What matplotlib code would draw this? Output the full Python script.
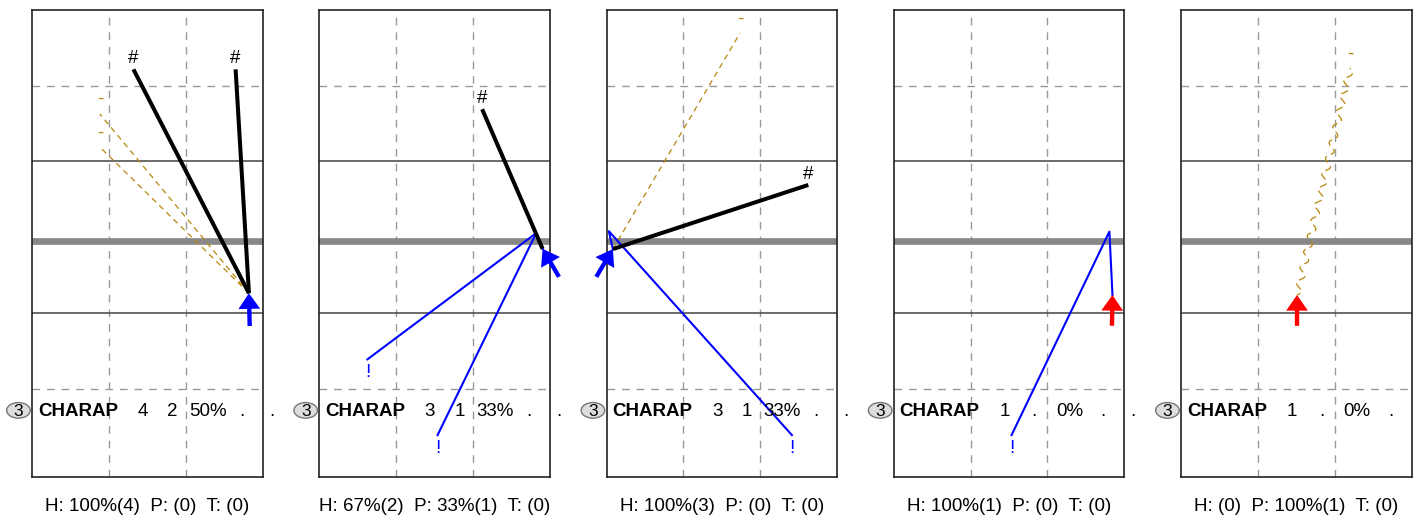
import matplotlib.pyplot as plt
from matplotlib.patches import FancyArrow, Ellipse

plt.rcParams['font.family'] = ['Liberation Sans', 'DejaVu Sans']

# court in meters, y grows downward from the far end line
court_w = 9.0
court_h = 18.5
dash_x = [3, 6]
dash_y = [3, 15]
solid_y = [6, 12]
net_y = 9.15

player_no = '3'
player_name = 'CHARAP'
row_values = [
    ['4', '2', '50%', '.', '.'],
    ['3', '1', '33%', '.', '.'],
    ['3', '1', '33%', '.', '.'],
    ['1', '.', '0%', '.', '.'],
    ['1', '.', '0%', '.'],
]
row_x = [4.32, 5.49, 6.86, 8.18, 9.35]
row_y = 16.1

summary = [
    'H: 100%(4)  P: (0)  T: (0)',
    'H: 67%(2)  P: 33%(1)  T: (0)',
    'H: 100%(3)  P: (0)  T: (0)',
    'H: 100%(1)  P: (0)  T: (0)',
    'H: (0)  P: 100%(1)  T: (0)',
]

# attack origin (arrow tip) and arrow tail per panel
origin = [(8.47, 11.22), (8.72, 9.46), (0.25, 9.47), (8.54, 11.29), (4.53, 11.29)]
arrow_tail = [(8.5, 12.52), (9.36, 10.57), (-0.4, 10.57), (8.52, 12.51), (4.53, 12.51)]
arrow_color = ['blue', 'blue', 'blue', 'red', 'red']

# kills (black, '#'), blocked/dug hits (gold dashed, '-'), pokes (gold zigzag, '-')
kill_end = [[(3.96, 2.35), (7.95, 2.35)], [(6.36, 3.93)], [(7.88, 6.93)], [], []]
gold_end = [[(2.65, 4.12), (2.65, 5.43)], [], [(5.21, 0.92)], [], []]
poke_end = [[], [], [], [], [(6.6, 2.31)]]

# set trajectories (blue, '!'): origin -> apex near net -> landing
set_apex = [None, (8.47, 8.84), (0.09, 8.76), (8.42, 8.78), None]
set_end = [[], [(1.88, 13.84), (4.62, 16.84)], [(7.24, 16.84)], [(4.6, 16.84)], []]

W, H = 1418, 517
fig = plt.figure(figsize=(W / 100, H / 100), dpi=100)

gold = '#b8860b'
fs = 13.5

for i in range(5):
    left = 32 + i * 287.25
    ax = fig.add_axes([left / W, 40 / H, 230.5 / W, 467 / H])
    ax.set_xlim(0, court_w)
    ax.set_ylim(court_h, 0)
    ax.set_xticks([])
    ax.set_yticks([])
    for s in ax.spines.values():
        s.set_linewidth(1.2)
        s.set_color('#222222')

    for x in dash_x:
        ax.axvline(x, color='#999999', lw=1, ls=(0, (5.5, 5)), zorder=1)
    for y in dash_y:
        ax.axhline(y, color='#999999', lw=1, ls=(0, (5.5, 5)), zorder=1)
    for y in solid_y:
        ax.axhline(y, color='#444444', lw=1.1, zorder=1)
    ax.axhline(net_y, color='#888888', lw=4.8, zorder=1)

    ox, oy = origin[i]

    for ex, ey in gold_end[i]:
        ax.plot([ox, ex], [oy, ey], color=gold, lw=0.9, ls=(0, (4.5, 3.5)), zorder=2)
        ax.annotate('-', (ex, ey), xytext=(0, 7), textcoords='offset points',
                    ha='center', va='baseline', color=gold, fontsize=fs)

    for ex, ey in poke_end[i]:
        ln, = ax.plot([ox, ex], [oy, ey], color=gold, lw=0.9,
                      ls=(3, (6, 3.5)), zorder=2)
        ln.set_sketch_params(scale=3.5, length=16, randomness=1)
        ax.annotate('-', (ex, ey), xytext=(0, 7), textcoords='offset points',
                    ha='center', va='baseline', color=gold, fontsize=fs)

    if set_apex[i] is not None:
        ax_, ay_ = set_apex[i]
        for ex, ey in set_end[i]:
            ax.plot([ox, ax_, ex], [oy, ay_, ey], color='blue', lw=1.5, zorder=3)
            ax.annotate('!', (ex, ey), xytext=(0, -3.5), textcoords='offset points',
                        ha='center', va='top', color='blue', fontsize=fs)

    for ex, ey in kill_end[i]:
        ax.plot([ox, ex], [oy, ey], color='black', lw=2.9, zorder=4,
                solid_capstyle='butt')
        ax.annotate('#', (ex, ey), xytext=(0, 4.3), textcoords='offset points',
                    ha='center', va='baseline', color='black', fontsize=fs)

    tx, ty = arrow_tail[i]
    ax.add_patch(FancyArrow(tx, ty, ox - tx, oy - ty, width=0.17, head_width=0.85,
                            head_length=0.62, length_includes_head=True,
                            color=arrow_color[i], lw=0, zorder=5, clip_on=False))

    # player row
    ax.add_patch(Ellipse((-0.53, row_y - 0.24), 0.92, 0.62, fc='#dddddd', ec='#777777',
                         lw=1, clip_on=False, zorder=6))
    ax.text(-0.53, row_y, player_no, ha='center', va='baseline', fontsize=12.5,
            clip_on=False, zorder=7)
    ax.text(0.23, row_y, player_name, ha='left', va='baseline', fontsize=fs,
            fontweight='bold', zorder=7)
    for x, v in zip(row_x, row_values[i]):
        ax.text(x, row_y, v, ha='center', va='baseline', fontsize=fs, zorder=7,
                clip_on=False)

    ax.text(0.5, -34 / 467, summary[i], transform=ax.transAxes, ha='center',
            va='baseline', fontsize=fs)

fig.savefig('out.png', dpi=100)
